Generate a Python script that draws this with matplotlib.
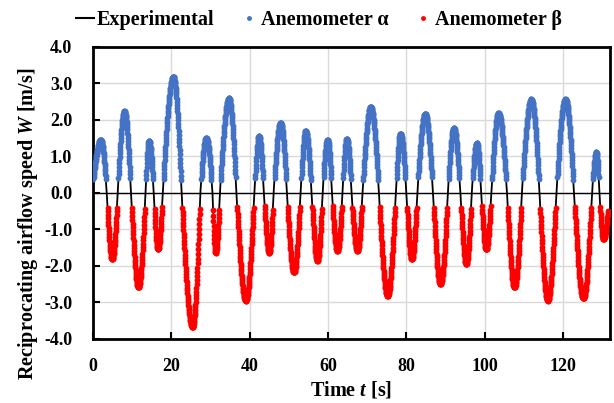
"""
Reciprocating airflow speed: experimental trace with anemometer alpha/beta readings
"""
import numpy as np
import matplotlib
matplotlib.use('Agg')
import matplotlib.pyplot as plt
from matplotlib.lines import Line2D

# lobes: start time, time of extreme, end time, extreme value
pos_start = [-0.3, 6.3, 13.4, 17.8, 27.4, 32.4, 41.2, 46.1, 53.0, 58.6,
             63.7, 68.8, 77.3, 82.8, 90.6, 96.7, 101.7, 109.5, 118.3, 127.4]
pos_peak_t = [2.0, 8.0, 14.3, 20.5, 28.9, 34.7, 42.4, 47.9, 54.3, 59.9,
              64.8, 70.9, 78.5, 84.8, 92.1, 98.0, 103.5, 111.9, 120.6, 128.5]
pos_end = [3.5, 9.7, 15.5, 22.6, 30.5, 36.6, 43.6, 49.5, 55.8, 61.0,
           66.0, 73.0, 80.0, 86.8, 93.8, 99.1, 105.7, 114.0, 122.8, 129.3]
pos_peak = [1.45, 2.23, 1.43, 3.18, 1.50, 2.59, 1.55, 1.91, 1.70, 1.45,
            1.48, 2.36, 1.62, 2.16, 1.77, 1.36, 2.18, 2.56, 2.56, 1.11]

neg_start = [3.5, 9.7, 15.5, 22.6, 30.5, 36.6, 43.6, 49.5, 55.8, 61.0,
             66.0, 73.0, 80.0, 86.8, 93.8, 99.1, 105.7, 114.0, 122.8, 129.3]
neg_peak_t = [4.9, 11.6, 16.6, 25.4, 31.3, 39.0, 45.0, 51.3, 57.3, 62.4,
              67.5, 75.2, 81.4, 88.7, 95.3, 100.4, 107.6, 116.1, 125.2, 130.3]
neg_end = [6.3, 13.4, 17.8, 27.4, 32.4, 41.2, 46.1, 53.0, 58.6, 63.7,
           68.8, 77.3, 82.8, 90.6, 96.7, 101.7, 109.5, 118.3, 127.4, 131.9]
neg_peak = [-1.82, -2.59, -1.55, -3.68, -1.64, -2.95, -1.64, -2.18, -1.86, -1.59,
            -1.59, -2.82, -1.82, -2.50, -1.95, -1.55, -2.59, -2.95, -2.89, -1.27]

T_END = 131.5
DT = 0.05
THRESHOLD = 0.35


def build_trace():
    t = np.arange(0.0, T_END + DT / 2, DT)
    w = np.zeros_like(t)
    lobes = list(zip(pos_start, pos_peak_t, pos_end, pos_peak)) + \
        list(zip(neg_start, neg_peak_t, neg_end, neg_peak))
    for s, p, e, a in lobes:
        up = (t >= s) & (t < p)
        dn = (t >= p) & (t < e)
        w[up] = a * np.sin(np.pi / 2 * (t[up] - s) / (p - s))
        w[dn] = a * np.cos(np.pi / 2 * (t[dn] - p) / (e - p))
    return t, w


t, w = build_trace()

plt.rcParams['font.family'] = ['Liberation Serif', 'DejaVu Serif']
plt.rcParams['font.weight'] = 'bold'
plt.rcParams['mathtext.fontset'] = 'custom'
plt.rcParams['mathtext.it'] = 'Liberation Serif:italic:bold'
plt.rcParams['mathtext.rm'] = 'Liberation Serif:bold'

fig = plt.figure(figsize=(6.14, 4.03), dpi=100)
ax = fig.add_axes([0.1515, 0.159, 0.842, 0.725])

blue = w > THRESHOLD
red = w < -THRESHOLD
ax.plot(t, w, '-', color='black', lw=1.3, zorder=2)
ax.plot(t[blue], w[blue], 'o', color='#4472C4', ms=4.2, mec='none', zorder=3)
ax.plot(t[red], w[red], 'o', color='#FF0000', ms=4.2, mec='none', zorder=3)
ax.axhline(0, color='black', lw=1.0, zorder=2)

ax.set_xlim(0, 132)
ax.set_ylim(-4, 4)
ax.set_xticks(np.arange(0, 121, 20))
ax.set_yticks(np.arange(-4, 4.1, 1))
ax.set_yticklabels([f'{v:.1f}' for v in np.arange(-4, 4.1, 1)])
ax.grid(True, color='#d9d9d9', lw=1.0, zorder=0)
ax.set_axisbelow(True)
ax.tick_params(direction='in', length=5, width=1.5, labelsize=13)
ax.tick_params(axis='x', pad=14)
ax.tick_params(axis='y', pad=15)
for sp in ax.spines.values():
    sp.set_linewidth(2.0)

ax.set_xlabel(r'Time $t$ [s]', fontsize=14.5, fontweight='bold', labelpad=3)
ax.set_ylabel(r'Reciprocating airflow speed $W$ [m/s]', fontsize=14.5,
              fontweight='bold')
ax.yaxis.set_label_coords(-0.102, 0.395)

handles = [
    Line2D([], [], color='black', lw=1.5),
    Line2D([], [], ls='none', marker='o', color='#4472C4', ms=3.5, mec='none'),
    Line2D([], [], ls='none', marker='o', color='#FF0000', ms=3.5, mec='none'),
]
labels = ['Experimental', r'Anemometer α', r'Anemometer β']
fig.legend(handles, labels, loc='upper center', bbox_to_anchor=(0.519, 1.02),
           ncol=3, frameon=False, handlelength=0.9,
           handletextpad=0.15, columnspacing=1.25,
           prop={'weight': 'bold', 'size': 14.5})

fig.savefig('out.png', dpi=100)
plt.close(fig)
